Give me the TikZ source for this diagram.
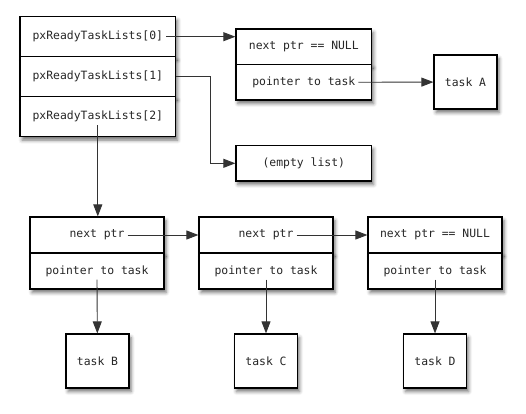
\documentclass[tikz,border=0pt]{standalone}
\usepackage{fontspec}
\setmonofont{DejaVu Sans Mono}
\usetikzlibrary{arrows.meta,shadows.blur}
\tikzset{
  cell/.style={draw, fill=white, line width=1.2pt, inner sep=0pt,
    blur shadow={shadow xshift=2pt, shadow yshift=-3.5pt, shadow blur radius=3.5pt, shadow opacity=55}},
  listcell/.style={cell, minimum width=155.6pt, minimum height=40pt},
  itemcell/.style={cell, minimum width=135.7pt, minimum height=35.5pt},
  nodecell/.style={cell, minimum width=134pt, minimum height=36pt},
  taskbox/.style={cell, txt, minimum width=63pt, minimum height=54pt},
  txt/.style={font=\ttfamily\fontsize{11.4}{13}\selectfont, inner sep=3pt, text=black!85},
  link/.style={-{Triangle[length=12pt,width=9pt]}, line width=0.9pt, draw=black!80},
}

\begin{document}
\begin{tikzpicture}[x=1pt, y=-1pt]
  \useasboundingbox (0,0) rectangle (526,413);

  % the ready lists
  \node (list0) at (97.8, 36.7) [listcell] {};
  \node (list1) at (97.8, 76.7) [listcell] {};
  \node (list2) at (97.8, 116.7) [listcell] {};
  \node (lbl0) at (list0) [txt] {pxReadyTaskLists[0]};
  \node (lbl1) at (list1) [txt] {pxReadyTaskLists[1]};
  \node (lbl2) at (list2) [txt] {pxReadyTaskLists[2]};

  % list 0
  \node (headA) at (303.8, 46.75) [itemcell] {};
  \node (ptrA) at (303.8, 82.25) [itemcell] {};
  \node (txtheadA) at (headA) [txt] {next ptr == NULL};
  \node (txtptrA) at (ptrA) [txt] {pointer to task};
  \node (taskA) at (465.5, 82) [taskbox] {task A};

  % list 1
  \node (empty) at (303.8, 163.3) [itemcell, txt] {(empty list)};

  % list 2
  \node (headB) at (97, 235) [nodecell] {};
  \node (ptrB) at (97, 271) [nodecell] {};
  \node (headC) at (266, 235) [nodecell] {};
  \node (ptrC) at (266, 271) [nodecell] {};
  \node (headD) at (435, 235) [nodecell] {};
  \node (ptrD) at (435, 271) [nodecell] {};
  \node (txtheadB) at (headB) [txt] {next ptr};
  \node (txtptrB) at (ptrB) [txt] {pointer to task};
  \node (txtheadC) at (headC) [txt] {next ptr};
  \node (txtptrC) at (ptrC) [txt] {pointer to task};
  \node (txtheadD) at (headD) [txt] {next ptr == NULL};
  \node (txtptrD) at (ptrD) [txt] {pointer to task};
  \node (taskB) at (97.5, 361) [taskbox] {task B};
  \node (taskC) at (266, 361) [taskbox] {task C};
  \node (taskD) at (435, 361) [taskbox] {task D};

  \draw[link] (lbl0.east) -- (lbl0.east -| headA.west);
  \draw[link] (list1.east) -- ++(34.4, 0) |- (empty.west);
  \draw[link] (lbl2.south) -- (lbl2.south |- headB.north);
  \draw[link] (txtptrA.east) -- (taskA);
  \draw[link] (txtheadB.east) -- (headC.west);
  \draw[link] (txtheadC.east) -- (headD.west);
  \draw[link] (txtptrB.south) -- (taskB);
  \draw[link] (txtptrC.south) -- (taskC);
  \draw[link] (txtptrD.south) -- (taskD);
\end{tikzpicture}
\end{document}
